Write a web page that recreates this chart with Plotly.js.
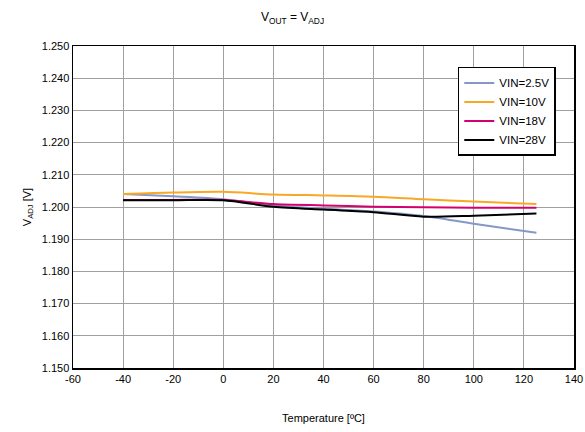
<!DOCTYPE html>
<html>
<head>
<script src="https://cdn.plot.ly/plotly-3.0.1.min.js"></script>
<style>html,body{margin:0;padding:0;background:#fff;}</style>
</head>
<body>
<div id="chart" style="width:585px;height:432px;"></div>
<script>
var temps = [-40, -20, 0, 20, 40, 60, 80, 100, 125];
var vin25 = [1.2040, 1.2033, 1.2024, 1.2005, 1.1995, 1.1986, 1.1972, 1.1948, 1.1920];
var vin10 = [1.2040, 1.2045, 1.2047, 1.2039, 1.2036, 1.2032, 1.2024, 1.2017, 1.2009];
var vin18 = [1.2022, 1.2022, 1.2022, 1.2009, 1.2005, 1.2001, 1.1999, 1.1998, 1.1998];
var vin28 = [1.2021, 1.2021, 1.2021, 1.2001, 1.1992, 1.1984, 1.1970, 1.1973, 1.1980];
var names = ['VIN=2.5V', 'VIN=10V', 'VIN=18V', 'VIN=28V'];
var colors = ['#8497c7', '#f9a826', '#d4006e', '#000000'];
var series = [vin25, vin10, vin18, vin28];
var xTickVals = [-60, -40, -20, 0, 20, 40, 60, 80, 100, 120, 140];
var xTickText = ['-60', '-40', '-20', '0', '20', '40', '60', '80', '100', '120', '140'];

var traces = series.map(function (s, i) {
  return {x: temps, y: s, name: names[i], type: 'scatter', mode: 'lines',
    line: {color: colors[i], width: 2, shape: 'spline', smoothing: 0.8}};
});

var layout = {
  width: 585, height: 432,
  margin: {l: 73, r: 11, t: 46, b: 64},
  paper_bgcolor: '#fff', plot_bgcolor: '#fff',
  font: {family: 'Liberation Sans, Arial, sans-serif', size: 11, color: '#000'},
  title: {text: 'V<sub>OUT</sub> = V<sub>ADJ</sub>', x: 0.5, xanchor: 'center', y: 0.96, yanchor: 'middle', font: {size: 12}},
  xaxis: {range: [-60, 140], tickmode: 'array', tickvals: xTickVals, ticktext: xTickText, showgrid: true, gridcolor: '#a0a0a0', gridwidth: 1,
    zeroline: false, showline: true, linecolor: '#000', linewidth: 1.5, mirror: true, ticks: '',
    title: {text: 'Temperature [ºC]', standoff: 30, font: {size: 11}}, fixedrange: true},
  yaxis: {range: [1.150, 1.250], dtick: 0.01, tick0: 1.15, tickformat: '.3f', showgrid: true, gridcolor: '#a0a0a0', gridwidth: 1,
    zeroline: false, showline: true, linecolor: '#000', linewidth: 1.5, mirror: true, ticks: '',
    title: {text: 'V<sub>ADJ</sub> [V]', standoff: 8, font: {size: 11}}, fixedrange: true},
  showlegend: true,
  legend: {x: 0.768, y: 0.935, xanchor: 'left', yanchor: 'top', bgcolor: '#fff', bordercolor: '#000', borderwidth: 1.5,
    font: {size: 11.5}, tracegroupgap: 0, itemwidth: 30}
};

Plotly.newPlot('chart', traces, layout, {displayModeBar: false, staticPlot: true});
</script>
</body>
</html>
